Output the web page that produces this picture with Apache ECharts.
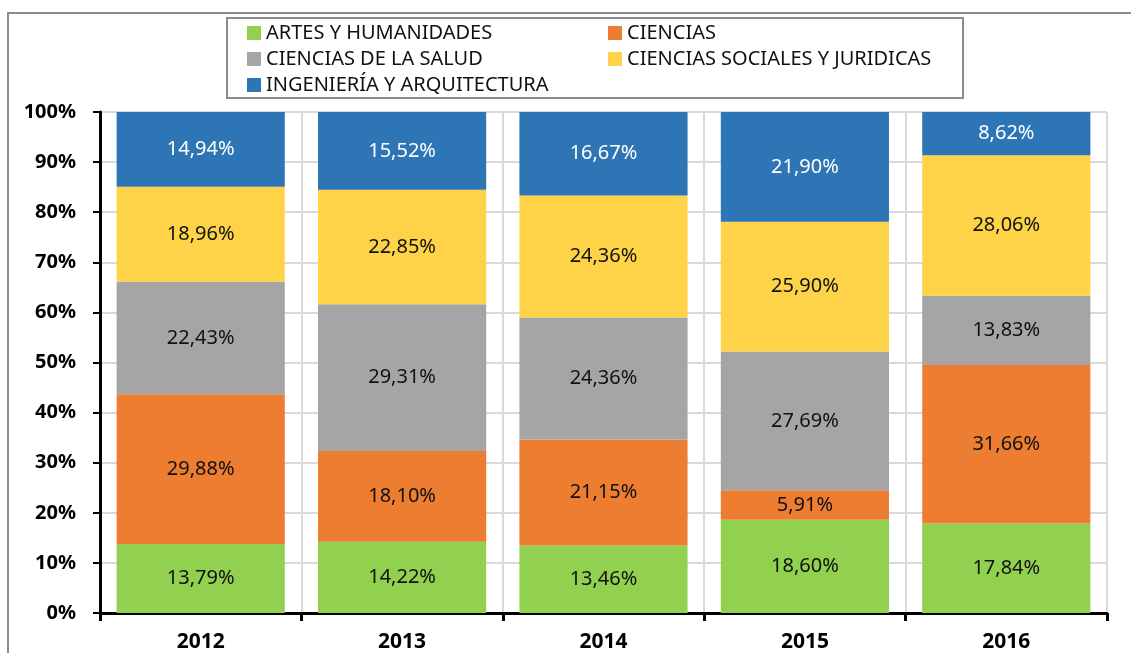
<!DOCTYPE html>
<html><head><meta charset="utf-8">
<script src="https://cdn.jsdelivr.net/npm/echarts@6/dist/echarts.min.js"></script>
<style>html,body{margin:0;padding:0;background:#fff}#c{width:1131px;height:653px}</style>
</head><body><div id="c"></div>
<script>
const years = ['2012','2013','2014','2015','2016'];
const seriesNames = ['ARTES Y HUMANIDADES','CIENCIAS','CIENCIAS DE LA SALUD','CIENCIAS SOCIALES Y JURIDICAS','INGENIERÍA Y ARQUITECTURA'];
const artes = [13.79, 14.22, 13.46, 18.60, 17.84];
const ciencias = [29.88, 18.10, 21.15, 5.91, 31.66];
const salud = [22.43, 29.31, 24.36, 27.69, 13.83];
const sociales = [18.96, 22.85, 24.36, 25.90, 28.06];
const ingenieria = [14.94, 15.52, 16.67, 21.90, 8.62];
const colors = ['#92d050','#ed7d31','#a5a5a5','#ffd347','#2e75b6'];
const labelColors = ['#111','#111','#111','#111','#fff'];
const allData = [artes, ciencias, salud, sociales, ingenieria];
const FONT = '"Noto Sans", sans-serif';

const chart = echarts.init(document.getElementById('c'));
const legendPos = [[247,23],[608,23],[247,49],[608,49],[247,75]];
chart.setOption({
  animation:false,
  textStyle:{fontFamily:FONT},
  graphic:[
    {type:'rect', shape:{x:8,y:13,width:1140,height:660}, style:{fill:'none',stroke:'#8c8c8c',lineWidth:2}, z:-1},
    {type:'rect', shape:{x:227,y:18,width:736,height:80}, style:{fill:'#fff',stroke:'#8c8c8c',lineWidth:2}, z:-1}
  ],
  legend: seriesNames.map((n,i)=>({
    data:[n], left:legendPos[i][0], top:legendPos[i][1], itemWidth:14, itemHeight:14, itemGap:6,
    icon:'rect', selectedMode:false, padding:0,
    textStyle:{fontFamily:FONT,fontSize:20,color:'#111',padding:[0,0,0,0]}
  })),
  grid:{left:100,right:24,top:112,bottom:37,containLabel:false},
  xAxis:{type:'category',data:years,
    axisLine:{lineStyle:{color:'#000',width:3}},
    axisTick:{show:true,length:8,lineStyle:{color:'#000',width:3}},
    axisLabel:{fontFamily:FONT,fontSize:21,fontWeight:'bold',color:'#000',margin:19},
    splitLine:{show:true,lineStyle:{color:'#d9d9d9',width:2}}
  },
  yAxis:{type:'value',min:0,max:100,interval:10,
    axisLine:{show:true,lineStyle:{color:'#000',width:3}},
    axisTick:{show:true,length:7,lineStyle:{color:'#000',width:2}},
    axisLabel:{fontFamily:FONT,fontSize:20,fontWeight:'bold',color:'#000',margin:24,formatter:'{value}%'},
    splitLine:{show:true,lineStyle:{color:'#d9d9d9',width:2}}
  },
  series: seriesNames.map((n,i)=>({
    name:n, type:'bar', stack:'total', barCategoryGap:'16.5%',
    data:allData[i], itemStyle:{color:colors[i]},
    label:{show:true,position:'inside',fontFamily:FONT,fontSize:20,color:labelColors[i],
      formatter:p=>p.value.toFixed(2).replace('.',',')+'%'}
  }))
});
</script></body></html>
